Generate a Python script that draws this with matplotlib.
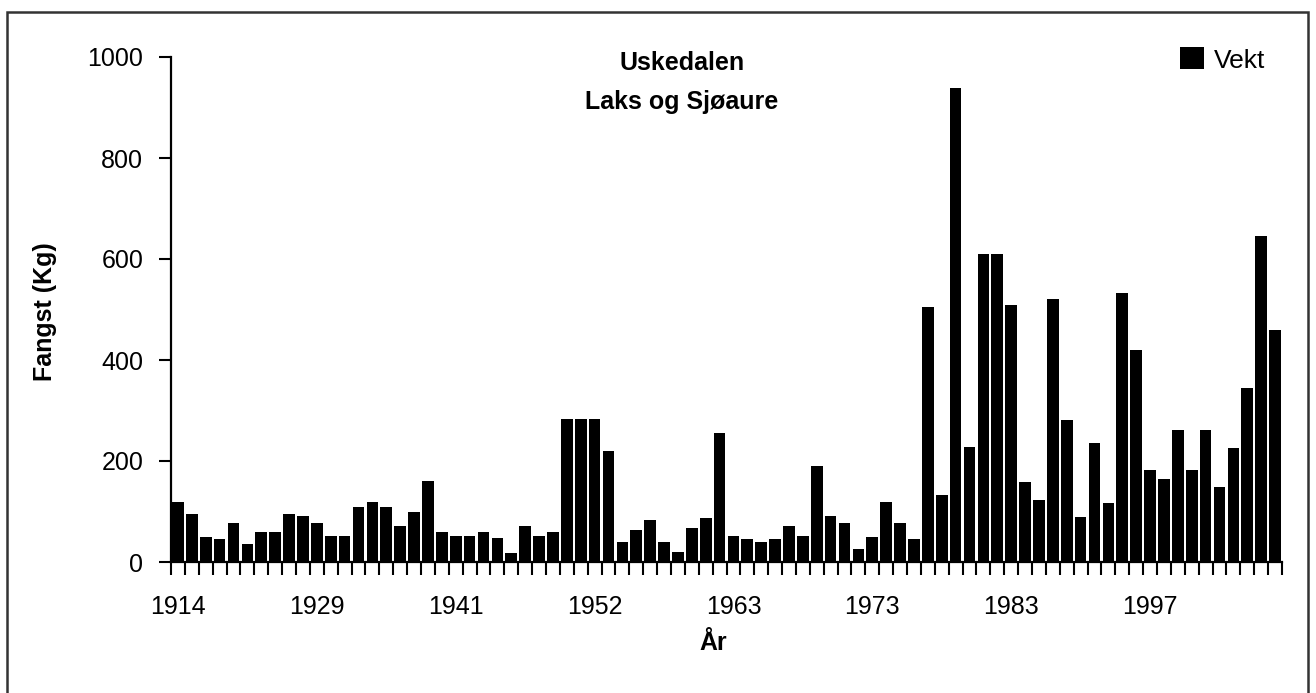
#!/usr/bin/env python3
"""Catch per year for Uskedalen (salmon and sea trout), bar chart."""

import numpy as np
import matplotlib
matplotlib.use('Agg')
from matplotlib import pyplot as plt
from matplotlib.patches import Rectangle

# catch in kg, one bar per recorded season (80 seasons)
vekt = [119, 96, 50, 46, 78, 36, 59, 59, 96, 91,
        78, 51, 51, 108, 119, 108, 72, 100, 160, 59,
        51, 51, 59, 47, 18, 72, 51, 59, 284, 284,
        284, 220, 40, 63, 83, 40, 20, 68, 88, 256,
        51, 46, 40, 46, 72, 51, 190, 91, 78, 26,
        50, 119, 77, 45, 505, 132, 939, 228, 610, 610,
        509, 159, 123, 520, 282, 90, 236, 117, 533, 420,
        182, 164, 261, 182, 261, 149, 226, 345, 645, 459]
tick_years = ['1914', '1929', '1941', '1952', '1963', '1973', '1983', '1997']
y_ticks = [0, 200, 400, 600, 800, 1000]

plt.rcParams['font.family'] = ['Liberation Sans', 'DejaVu Sans']
FS = 18

W, H = 1316, 693
fig = plt.figure(figsize=(W / 100, H / 100), dpi=100)
fig.patch.set_facecolor('white')

# (left, bottom, width, height) in figure fractions
ax = fig.add_axes((171 / W, 1 - 562 / H, (1282 - 171) / W, (562 - 57) / H))

x = np.arange(len(vekt))
ax.bar(x, vekt, width=0.84, color='black', label='Vekt')

ax.set_xlim(-0.5, len(vekt) - 0.5)
ax.set_ylim(0, 1000)

# ticks on the category boundaries, labels on every tenth bar
ax.set_xticks(np.arange(-0.5, len(vekt), 1))
ax.set_xticklabels([])
ax.set_xticks(x[::10], minor=True)
ax.set_xticklabels(tick_years, minor=True, fontsize=FS)
ax.tick_params(axis='x', which='major', direction='out', length=9, width=1.5)
ax.tick_params(axis='x', which='minor', length=0, pad=24)

ax.set_yticks(y_ticks)
ax.set_yticklabels([str(v) for v in y_ticks], fontsize=FS)
ax.tick_params(axis='y', direction='out', length=9, width=1.5, pad=11)

for side in ('top', 'right'):
    ax.spines[side].set_visible(False)
for side in ('left', 'bottom'):
    ax.spines[side].set_linewidth(1.6)

fig.text(45 / W, 1 - 312 / H, 'Fangst (Kg)', rotation=90, ha='center',
         va='center', fontsize=FS, fontweight='bold')
fig.text(713 / W, 1 - 643 / H, 'År', ha='center', va='center',
         fontsize=FS, fontweight='bold')
fig.text(682 / W, 1 - 63 / H, 'Uskedalen', ha='center', va='center',
         fontsize=FS, fontweight='bold')
fig.text(682 / W, 1 - 102 / H, 'Laks og Sjøaure', ha='center', va='center',
         fontsize=FS, fontweight='bold')

fig.legend(loc='center left', bbox_to_anchor=(1180 / W, 1 - 60 / H),
           frameon=False, fontsize=19, handlelength=0.9, handleheight=0.9,
           handletextpad=0.4, borderpad=0, borderaxespad=0)

# the outer frame round the whole chart
fig.patches.append(Rectangle((7 / W, -0.05), (1308 - 7) / W, 1.05 - 12 / H,
                             transform=fig.transFigure, fill=False,
                             edgecolor='#333333', linewidth=1.8))

fig.savefig('out.png', dpi=100, facecolor='white')
